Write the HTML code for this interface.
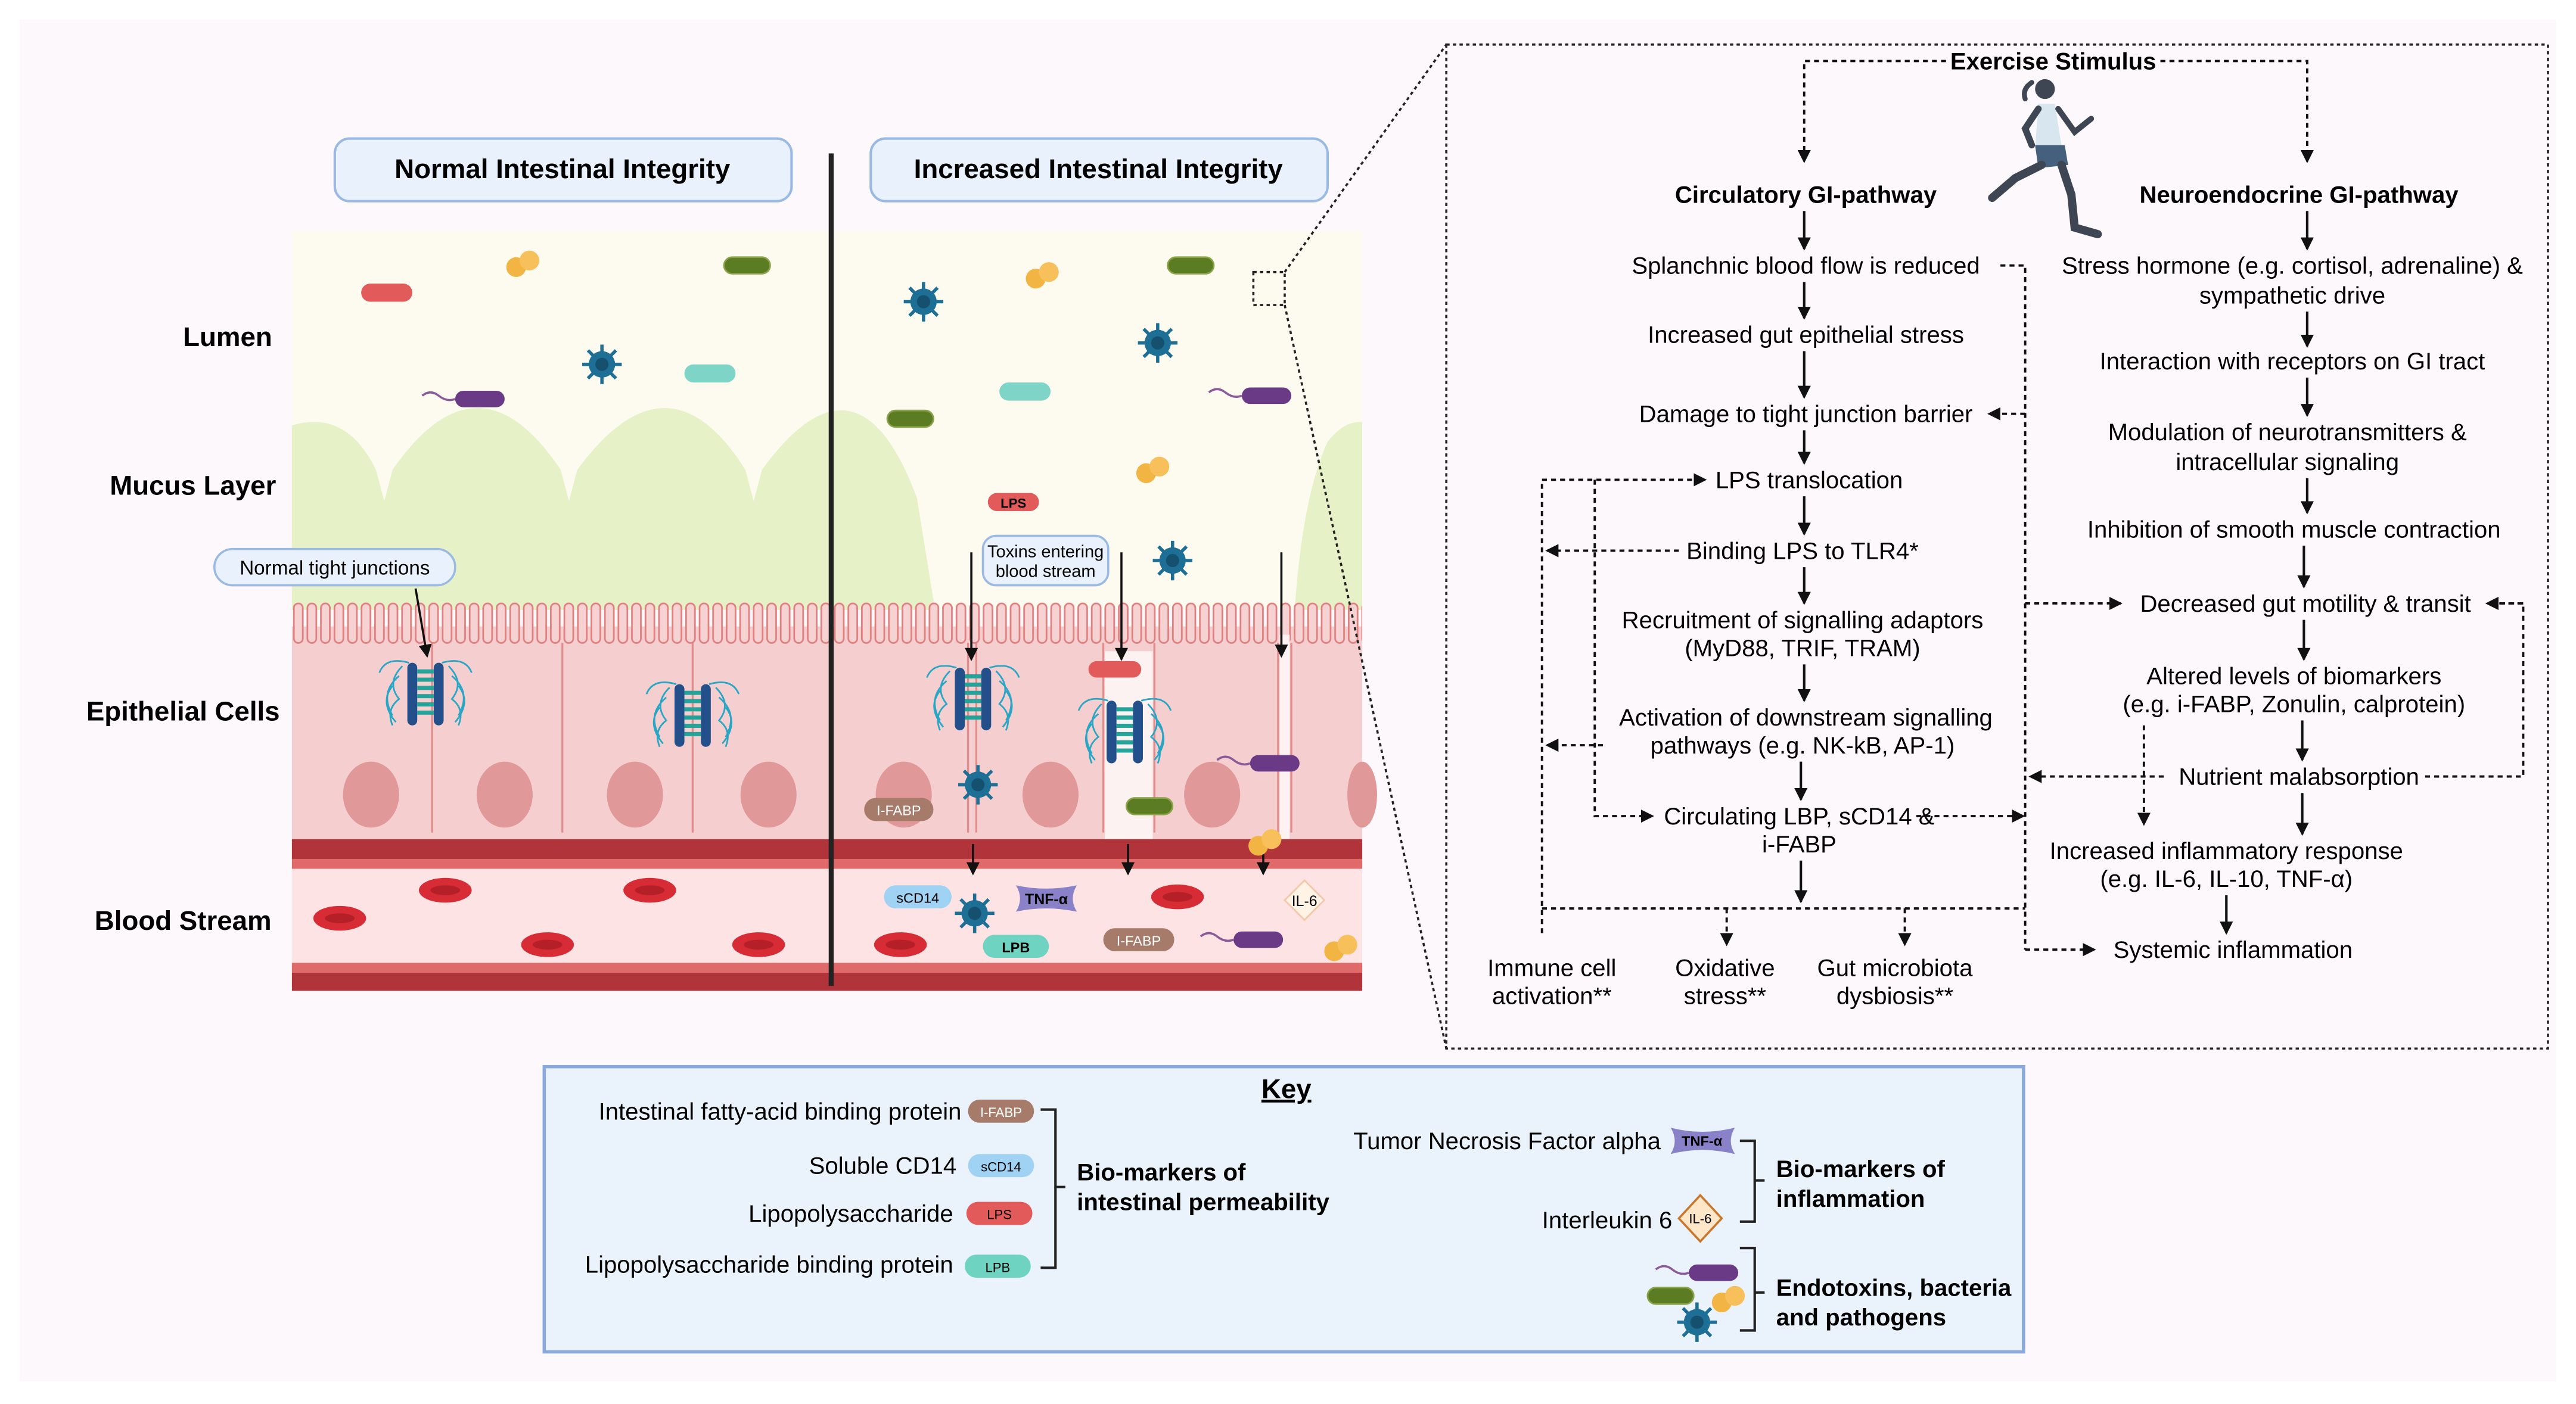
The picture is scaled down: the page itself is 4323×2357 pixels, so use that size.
<!DOCTYPE html>
<html><head><meta charset="utf-8"><style>
html,body{margin:0;padding:0;background:#fff;}
svg{display:block;}
text{font-family:"Liberation Sans",Arial,sans-serif;}
</style></head><body>
<svg width="4323" height="2357" viewBox="0 0 1562 851.6" xmlns="http://www.w3.org/2000/svg">
<defs>
<marker id="ah" markerWidth="8" markerHeight="8" refX="7" refY="4" orient="auto" markerUnits="userSpaceOnUse"><path d="M0,0 L8,4 L0,8 Z" fill="#111"/></marker>
<pattern id="mv" x="177" y="365" width="8.2" height="30" patternUnits="userSpaceOnUse"><rect x="1.2" y="1" width="5.4" height="24" rx="2.7" fill="#f7d2d2" stroke="#e07f7f" stroke-width="1"/></pattern>
<g id="virus"><circle r="8" fill="#1e6f95"/><g stroke="#1e6f95" stroke-width="2"><line x1="-12" y1="0" x2="12" y2="0"/><line x1="0" y1="-12" x2="0" y2="12"/><line x1="-8.5" y1="-8.5" x2="8.5" y2="8.5"/><line x1="-8.5" y1="8.5" x2="8.5" y2="-8.5"/></g><circle r="4" fill="#15506e"/></g>
<g id="cocci"><circle cx="-4" cy="2" r="6" fill="#f2b544"/><circle cx="4" cy="-2" r="6" fill="#f7c05a"/></g>
<g id="green"><rect x="-14" y="-5" width="28" height="10" rx="5" fill="#5c7c24" stroke="#8aa34a" stroke-width="1"/></g>
<g id="purple"><path d="M-32,-2 q5,-4 10,0 t10,2" fill="none" stroke="#8a5a9a" stroke-width="1.3"/><rect x="-12" y="-5" width="30" height="10" rx="5" fill="#6b3a86"/></g>
<g id="tj"><g stroke="#2aa6c5" stroke-width="1" fill="none"><path d="M-14,-18 q-10,10 -2,20 q-8,6 -4,16"/><path d="M-16,-12 q-12,10 -4,24"/><path d="M-20,-6 q-8,10 2,22"/><path d="M14,-18 q10,10 2,20 q8,6 4,16"/><path d="M16,-12 q12,10 4,24"/><path d="M20,-6 q8,10 -2,22"/><path d="M-10,-20 q-14,-4 -18,6"/><path d="M10,-20 q14,-4 18,6"/></g><rect x="-11" y="-20" width="6" height="38" rx="3" fill="#234f8a"/><rect x="5" y="-20" width="6" height="38" rx="3" fill="#234f8a"/><g fill="#23a39a"><rect x="-5" y="-16" width="10" height="2.5"/><rect x="-5" y="-11" width="10" height="2.5"/><rect x="-5" y="-6" width="10" height="2.5"/><rect x="-5" y="-1" width="10" height="2.5"/><rect x="-5" y="4" width="10" height="2.5"/><rect x="-5" y="9" width="10" height="2.5"/></g></g>
<g id="rbc"><ellipse rx="16" ry="7.5" fill="#d72c36"/><ellipse rx="9" ry="3" fill="#b51f28"/></g>
</defs>
<rect width="1562" height="851.6" fill="#fff"/>
<rect x="12" y="12" width="1538" height="826" fill="#fdf8fb"/>

<!-- Left illustration -->
<rect x="177" y="140" width="649" height="230" fill="#fdfbef"/>
<path d="M177,370 L177,258 Q210,248 228,285 L233,304 L238,285 Q290,210 340,285 L345,304 L350,285 Q405,210 452,285 L457,304 L462,285 Q520,205 556,302 L567,370 Z" fill="#e7f1c8"/>
<path d="M826,370 L785,370 Q790,300 805,268 Q815,255 826,256 Z" fill="#e7f1c8"/>
<rect x="177" y="380" width="649" height="132" fill="#f5cfcf"/>
<rect x="177" y="365" width="649" height="28" fill="url(#mv)"/>
<g stroke="#e28d8d" stroke-width="1.2" fill="none">
<path d="M262,390 V505"/><path d="M341,390 V505"/><path d="M420,390 V505"/>
<path d="M587,390 V505"/><path d="M592,390 V505"/><path d="M669,390 V505"/><path d="M700,390 V505"/><path d="M775,390 V505"/><path d="M783,390 V505"/>
</g>
<rect x="670" y="395" width="29" height="115" fill="#fdf2f2"/>
<rect x="776" y="385" width="6" height="125" fill="#fdf2f2"/>
<g fill="#e09898">
<ellipse cx="225" cy="482" rx="17" ry="20"/><ellipse cx="306" cy="482" rx="17" ry="20"/><ellipse cx="385" cy="482" rx="17" ry="20"/><ellipse cx="466" cy="482" rx="17" ry="20"/>
<ellipse cx="548" cy="482" rx="17" ry="20"/><ellipse cx="637" cy="482" rx="17" ry="20"/><ellipse cx="735" cy="482" rx="17" ry="20"/><ellipse cx="826" cy="482" rx="9" ry="20"/>
</g>
<rect x="177" y="509" width="649" height="12" fill="#b0343a"/>
<rect x="177" y="521" width="649" height="6" fill="#e06a6a"/>
<rect x="177" y="527" width="649" height="57" fill="#fde3e4"/>
<rect x="177" y="584" width="649" height="6" fill="#e06a6a"/>
<rect x="177" y="590" width="649" height="11" fill="#b0343a"/>
<line x1="504" y1="93" x2="504" y2="598" stroke="#222" stroke-width="3"/>

<rect x="203" y="84" width="277" height="38" rx="9" fill="#e9f2fc" stroke="#9ab9e3" stroke-width="1.5"/>
<text x="341" y="108" font-size="16.5" font-weight="bold" text-anchor="middle">Normal Intestinal Integrity</text>
<rect x="528" y="84" width="277" height="38" rx="9" fill="#e9f2fc" stroke="#9ab9e3" stroke-width="1.5"/>
<text x="666" y="108" font-size="16.5" font-weight="bold" text-anchor="middle">Increased Intestinal Integrity</text>

<g font-size="16.5" font-weight="bold" text-anchor="middle">
<text x="138" y="210">Lumen</text><text x="117" y="300">Mucus Layer</text><text x="111" y="437">Epithelial Cells</text><text x="111" y="564">Blood Stream</text>
</g>

<rect x="130" y="333" width="146" height="22" rx="11" fill="#e9f2fc" stroke="#9ab9e3" stroke-width="1.3"/>
<text x="203" y="348.5" font-size="12" text-anchor="middle">Normal tight junctions</text>
<line x1="252" y1="357" x2="259" y2="398" stroke="#111" stroke-width="1.3" marker-end="url(#ah)"/>
<rect x="596" y="325" width="76" height="30" rx="8" fill="#e9f2fc" stroke="#9ab9e3" stroke-width="1.3"/>
<text x="634" y="338" font-size="10.5" text-anchor="middle">Toxins entering</text>
<text x="634" y="350" font-size="10.5" text-anchor="middle">blood stream</text>
<g stroke="#111" stroke-width="1.3">
<line x1="589" y1="335" x2="589" y2="400" marker-end="url(#ah)"/>
<line x1="680" y1="335" x2="680" y2="400" marker-end="url(#ah)"/>
<line x1="777" y1="335" x2="777" y2="398" marker-end="url(#ah)"/>
<line x1="590" y1="512" x2="590" y2="530" marker-end="url(#ah)"/>
<line x1="684" y1="512" x2="684" y2="530" marker-end="url(#ah)"/>
<line x1="766" y1="512" x2="766" y2="530" marker-end="url(#ah)"/>
</g>
<use href="#tj" x="258" y="422"/><use href="#tj" x="420" y="435"/><use href="#tj" x="590" y="425"/><use href="#tj" x="682" y="445"/>

<!-- lumen objects -->
<rect x="219" y="172" width="31" height="11" rx="5.5" fill="#e25a5a"/>
<use href="#cocci" x="317" y="160"/><use href="#green" x="453" y="161"/>
<use href="#virus" x="365" y="221"/>
<rect x="415" y="221" width="31" height="11" rx="5.5" fill="#7ed4c6"/>
<use href="#purple" x="288" y="242"/>
<use href="#virus" x="560" y="183"/><use href="#cocci" x="632" y="167"/><use href="#green" x="722" y="161"/>
<use href="#virus" x="702" y="208"/><rect x="606" y="232" width="31" height="11" rx="5.5" fill="#7ed4c6"/>
<use href="#purple" x="765" y="240"/><use href="#green" x="552" y="254"/><use href="#cocci" x="699" y="285"/>
<rect x="599" y="299" width="31" height="11" rx="5.5" fill="#e25a5a"/><text x="614.5" y="308" font-size="8" font-weight="bold" text-anchor="middle">LPS</text>
<use href="#virus" x="711" y="340"/>
<rect x="660" y="401" width="32" height="10" rx="5" fill="#e25a5a"/>
<use href="#virus" x="593" y="476"/><use href="#green" x="697" y="489"/><use href="#purple" x="770" y="463"/><use href="#cocci" x="767" y="511"/>
<rect x="524" y="484" width="42" height="14" rx="7" fill="#a77b6a"/><text x="545" y="494.5" font-size="8.5" fill="#fff" text-anchor="middle">I-FABP</text>
<!-- blood objects -->
<use href="#rbc" x="206" y="557"/><use href="#rbc" x="270" y="540"/><use href="#rbc" x="332" y="573"/><use href="#rbc" x="394" y="540"/><use href="#rbc" x="460" y="573"/>
<use href="#rbc" x="546" y="573"/><use href="#rbc" x="714" y="544"/>
<rect x="536" y="537" width="41" height="14" rx="7" fill="#9fd2f3"/><text x="556.5" y="547.5" font-size="8.5" text-anchor="middle">sCD14</text>
<use href="#virus" x="591" y="554"/>
<path d="M616,537 Q634,541 653,537 Q648,545 653,553 Q634,549 616,553 Q621,545 616,537 Z" fill="#8a82c8"/><text x="634.5" y="548.5" font-size="9" font-weight="bold" text-anchor="middle">TNF-α</text>
<rect x="596" y="567" width="40" height="14" rx="7" fill="#6fd3c2"/><text x="616" y="577.5" font-size="8.5" font-weight="bold" text-anchor="middle">LPB</text>
<rect x="669" y="563" width="43" height="14" rx="7" fill="#a77b6a"/><text x="690.5" y="573.5" font-size="8.5" fill="#fff" text-anchor="middle">I-FABP</text>
<use href="#purple" x="760" y="570"/>
<path d="M791,534 L803,546 L791,558 L779,546 Z" fill="#fff3e6" stroke="#f3c8a8" stroke-width="1"/><text x="791" y="549.5" font-size="9" text-anchor="middle">IL-6</text>
<use href="#cocci" x="813" y="575"/>

<!-- zoom connector -->
<rect x="760" y="165" width="19" height="20" fill="none" stroke="#222" stroke-width="1.3" stroke-dasharray="2 2"/>
<line x1="779" y1="165" x2="877" y2="27" stroke="#222" stroke-width="1.3" stroke-dasharray="2 2"/>
<line x1="779" y1="185" x2="877" y2="636" stroke="#222" stroke-width="1.3" stroke-dasharray="2 2"/>

<!-- flowchart box -->
<rect x="877" y="27" width="668" height="609" fill="none" stroke="#222" stroke-width="1.3" stroke-dasharray="2 2"/>

<!-- runner -->
<g fill="#3d4652" stroke="#3d4652" stroke-linecap="round">
<circle cx="1240" cy="54" r="6" stroke="none"/>
<path d="M1232,50 q-6,4 -4,10" fill="none" stroke-width="3"/>
<path d="M1236,63 L1246,63 L1250,88 L1234,90 Z" fill="#d8e6f0" stroke="none"/>
<path d="M1234,88 L1252,88 L1254,100 L1236,102 Z" fill="#45607c" stroke="none"/>
<path d="M1236,66 L1228,78 L1232,88" fill="none" stroke-width="4"/>
<path d="M1248,66 L1258,80 L1268,72" fill="none" stroke-width="3.5"/>
<path d="M1238,100 L1222,108 L1208,120" fill="none" stroke-width="5"/>
<path d="M1250,100 L1256,118 L1258,138 L1272,142" fill="none" stroke-width="5"/>
</g>

<g font-size="14.5" text-anchor="middle">
<text x="1245" y="42" font-weight="bold">Exercise Stimulus</text>
<text x="1095" y="123" font-weight="bold">Circulatory GI-pathway</text>
<text x="1394" y="123" font-weight="bold">Neuroendocrine GI-pathway</text>
<text x="1095" y="166">Splanchnic blood flow is reduced</text>
<text x="1095" y="208">Increased gut epithelial stress</text>
<text x="1095" y="256">Damage to tight junction barrier</text>
<text x="1097" y="296">LPS translocation</text>
<text x="1093" y="339">Binding LPS to TLR4*</text>
<text x="1093" y="381">Recruitment of signalling adaptors</text>
<text x="1093" y="398">(MyD88, TRIF, TRAM)</text>
<text x="1095" y="440">Activation of downstream signalling</text>
<text x="1093" y="457">pathways (e.g. NK-kB, AP-1)</text>
<text x="1091" y="500">Circulating LBP, sCD14 &amp;</text>
<text x="1091" y="517">i-FABP</text>
<text x="941" y="592">Immune cell</text><text x="941" y="609">activation**</text>
<text x="1046" y="592">Oxidative</text><text x="1046" y="609">stress**</text>
<text x="1149" y="592">Gut microbiota</text><text x="1149" y="609">dysbiosis**</text>
<text x="1390" y="166">Stress hormone (e.g. cortisol, adrenaline) &amp;</text>
<text x="1390" y="184">sympathetic drive</text>
<text x="1390" y="224">Interaction with receptors on GI tract</text>
<text x="1387" y="267">Modulation of neurotransmitters &amp;</text>
<text x="1387" y="285">intracellular signaling</text>
<text x="1391" y="326">Inhibition of smooth muscle contraction</text>
<text x="1398" y="371">Decreased gut motility &amp; transit</text>
<text x="1391" y="415">Altered levels of biomarkers</text>
<text x="1391" y="432">(e.g. i-FABP, Zonulin, calprotein)</text>
<text x="1394" y="476">Nutrient malabsorption</text>
<text x="1350" y="521">Increased inflammatory response</text>
<text x="1350" y="538">(e.g. IL-6, IL-10, TNF-α)</text>
<text x="1354" y="581">Systemic inflammation</text>
</g>

<!-- solid arrows -->
<g stroke="#111" stroke-width="1.5" marker-end="url(#ah)">
<line x1="1094" y1="128" x2="1094" y2="151"/>
<line x1="1094" y1="171" x2="1094" y2="193"/>
<line x1="1094" y1="213" x2="1094" y2="241"/>
<line x1="1094" y1="261" x2="1094" y2="281"/>
<line x1="1094" y1="301" x2="1094" y2="324"/>
<line x1="1094" y1="344" x2="1094" y2="366"/>
<line x1="1094" y1="403" x2="1094" y2="425"/>
<line x1="1092" y1="462" x2="1092" y2="485"/>
<line x1="1092" y1="522" x2="1092" y2="547"/>
<line x1="1399" y1="128" x2="1399" y2="151"/>
<line x1="1399" y1="189" x2="1399" y2="210"/>
<line x1="1399" y1="229" x2="1399" y2="252"/>
<line x1="1399" y1="290" x2="1399" y2="311"/>
<line x1="1397" y1="331" x2="1397" y2="356"/>
<line x1="1397" y1="376" x2="1397" y2="400"/>
<line x1="1396" y1="437" x2="1396" y2="461"/>
<line x1="1396" y1="481" x2="1396" y2="506"/>
<line x1="1350" y1="543" x2="1350" y2="566"/>
</g>
<!-- dashed connectors -->
<g stroke="#111" stroke-width="1.4" stroke-dasharray="3 2.5" fill="none">
<path d="M1180,37 H1094 V98" marker-end="url(#ah)"/>
<path d="M1310,37 H1399 V98" marker-end="url(#ah)"/>
<path d="M1213,161 H1228 V576"/>
<path d="M1228,251 H1206" marker-end="url(#ah)"/>
<path d="M1228,366 H1286" marker-end="url(#ah)"/>
<path d="M1312,471 H1231" marker-end="url(#ah)"/>
<path d="M1162,495 H1227" marker-end="url(#ah)"/>
<path d="M1228,576 H1270" marker-end="url(#ah)"/>
<path d="M1510,366 H1530 V471 H1468"/>
<path d="M1530,366 H1508" marker-end="url(#ah)"/>
<path d="M1300,440 V500" marker-end="url(#ah)"/>
<path d="M935,566 V291 H1034" marker-end="url(#ah)"/>
<path d="M967,291 V495 H1002" marker-end="url(#ah)"/>
<path d="M1018,334 H938" marker-end="url(#ah)"/>
<path d="M972,452 H938" marker-end="url(#ah)"/>
<path d="M935,551 H1228"/>
<path d="M1047,551 V573" marker-end="url(#ah)"/>
<path d="M1155,551 V573" marker-end="url(#ah)"/>
</g>

<!-- Key -->
<rect x="330" y="647" width="897" height="173" fill="#eaf2fb" stroke="#8aa9dd" stroke-width="2"/>
<text x="780" y="666" font-size="16.5" font-weight="bold" text-anchor="middle" text-decoration="underline">Key</text>
<g font-size="14.5" text-anchor="end">
<text x="583" y="679">Intestinal fatty-acid binding protein</text>
<text x="580" y="712">Soluble CD14</text>
<text x="578" y="741">Lipopolysaccharide</text>
<text x="578" y="772">Lipopolysaccharide binding protein</text>
<text x="1007" y="697">Tumor Necrosis Factor alpha</text>
<text x="1014" y="745">Interleukin 6</text>
</g>
<rect x="587" y="667" width="40" height="14" rx="7" fill="#a77b6a"/><text x="607" y="677.5" font-size="8" fill="#fff" text-anchor="middle">I-FABP</text>
<rect x="587" y="700" width="40" height="14" rx="7" fill="#9fd2f3"/><text x="607" y="710.5" font-size="8" text-anchor="middle">sCD14</text>
<rect x="586" y="729" width="40" height="14" rx="7" fill="#e25a5a"/><text x="606" y="739.5" font-size="8" text-anchor="middle">LPS</text>
<rect x="585" y="761" width="40" height="14" rx="7" fill="#6fd3c2"/><text x="605" y="771.5" font-size="8" text-anchor="middle">LPB</text>
<path d="M1013,684 Q1032,689 1052,684 Q1047,692 1052,700 Q1032,695 1013,700 Q1018,692 1013,684 Z" fill="#8a82c8"/><text x="1032" y="695" font-size="8.5" font-weight="bold" text-anchor="middle">TNF-α</text>
<path d="M1031,725 L1044,739 L1031,753 L1018,739 Z" fill="#fde7c8" stroke="#c9772e" stroke-width="1.3"/><text x="1031" y="742" font-size="8" text-anchor="middle">IL-6</text>
<g stroke="#222" stroke-width="1.5" fill="none">
<path d="M631,673 H640 V769 H631"/><path d="M640,720 H646"/>
<path d="M1055,692 H1064 V741 H1055"/><path d="M1064,716 H1070"/>
<path d="M1055,771 H1064 V821 H1055" transform="translate(0,-14)"/><path d="M1064,784 H1070"/>
</g>
<g font-size="14.5" font-weight="bold">
<text x="653" y="716">Bio-markers of</text><text x="653" y="734">intestinal permeability</text>
<text x="1077" y="714">Bio-markers of</text><text x="1077" y="732">inflammation</text>
<text x="1077" y="786">Endotoxins, bacteria</text><text x="1077" y="804">and pathogens</text>
</g>
<use href="#purple" x="1036" y="772" transform="translate(0,0)"/>
<use href="#green" x="1013" y="786"/><use href="#cocci" x="1048" y="788"/>
<use href="#virus" x="1029" y="802"/>
</svg>
</body></html>
